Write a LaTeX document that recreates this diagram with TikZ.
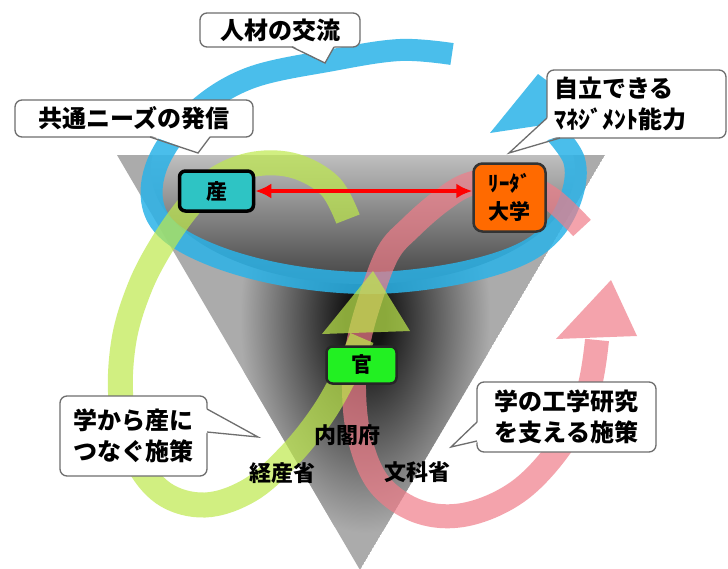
\documentclass[tikz,border=0pt]{standalone}
\usepackage{fontspec}
\setmainfont{Noto Sans CJK JP}
\usetikzlibrary{arrows.meta}
\definecolor{fgray}{HTML}{ABABAB}
\definecolor{fdark}{HTML}{141414}
\definecolor{mtop}{HTML}{C4C4C4}
\definecolor{mbot}{HTML}{404040}
\definecolor{ringblue}{RGB}{43,179,232}
\definecolor{arrgreen}{RGB}{190,233,76}
\definecolor{arrpink}{RGB}{240,125,137}
\definecolor{santeal}{RGB}{46,196,196}
\definecolor{univorange}{RGB}{255,106,0}
\definecolor{kangreen}{RGB}{34,240,34}
\definecolor{callborder}{HTML}{6E6E6E}
\pgfdeclareradialshading{funnel}{\pgfpoint{0bp}{0bp}}{color(0bp)=(fdark); color(4bp)=(fdark); color(25bp)=(fgray); color(50bp)=(fgray)}
\begin{document}
\begin{tikzpicture}[x=1pt,y=-1pt,
  callout/.style={draw=callborder, fill=white, line width=1.3pt, rounded corners=7pt, align=center, inner sep=0pt, font=\bfseries\fontsize{24}{31}\selectfont},
  tailline/.style={draw=callborder, line width=1.3pt, line join=miter},
  orgbox/.style={rounded corners=6pt, inner sep=0pt, align=center, font=\bfseries\fontsize{21}{28}\selectfont},
  agency/.style={font=\bfseries\fontsize{22}{26}\selectfont, inner sep=0pt},
]
\useasboundingbox (0,0) rectangle (728,568);
\fill[white] (0,0) rectangle (728,568);
% funnel
\coordinate (tl) at (117,155);
\coordinate (tr) at (605,155);
\coordinate (tb) at (360,570);
\begin{scope}
  \clip (tl) -- (tr) -- (tb) -- cycle;
  \fill[fgray] (tl) -- (tr) -- (tb) -- cycle;
  \shade[shading=funnel] (365,318) ellipse [x radius=125pt, y radius=215pt];
  \begin{scope}
    \clip (363,170) ellipse [x radius=212pt, y radius=114pt];
    \shade[top color=mtop, bottom color=mbot] (100,150) rectangle (620,285);
  \end{scope}
\end{scope}
% blue ring
\begin{scope}[opacity=0.85]
  \draw[ringblue, line width=22pt] plot[smooth, tension=0.6] coordinates {(452,54) (400,50) (333,60) (250,78) (195,112) (160,158) (152,200) (170,232) (220,258) (290,276) (370,283) (450,275) (515,257) (552,232) (572,195) (574,160) (552,129)};
  \fill[ringblue] (490,133) -- (538,74) -- (596,117) -- cycle;
\end{scope}
% pink arrow
\begin{scope}[opacity=0.7]
  \draw[arrpink, line width=24pt] plot[smooth, tension=0.6] coordinates {(582,228) (550,198) (510,179) (470,184) (441,201) (410,228) (388,253) (370,300) (358,345) (354,390) (360,440) (380,485) (420,512) (468,514) (520,490) (563,443) (588,392) (597,340)};
  \fill[arrpink] (556,339) -- (611,280) -- (637,336) -- cycle;
\end{scope}
% green arrow
\begin{scope}[opacity=0.7]
  \draw[arrgreen, line width=25pt] plot[smooth, tension=0.6] coordinates {(348,219) (330,186) (295,166) (255,164) (218,178) (190,205) (163,243) (140,287) (124,340) (121,400) (134,455) (163,493) (205,505) (250,490) (290,455) (322,415) (345,375) (362,338)};
  \fill[arrgreen] (322,334) -- (373,271) -- (410,331) -- cycle;
\end{scope}
% boxes
\node[orgbox, draw=black, line width=3.5pt, fill=santeal, minimum width=74pt, minimum height=40pt] (san) at (216.5,191) {産};
\node[orgbox, draw=black!80, line width=2.5pt, fill=univorange, minimum width=72pt, minimum height=68pt, rounded corners=9pt] (univ) at (509.5,197.5) {ﾘｰﾀﾞ\\大学};
\node[orgbox, draw=black!85, line width=2.5pt, fill=kangreen, minimum width=70pt, minimum height=37pt] (kan) at (361.5,365) {官};
\draw[red, line width=3.8pt, {Latex[length=16pt,width=15pt]}-{Latex[length=16pt,width=15pt]}] (san.east) -- (univ.west |- san.east);
% callouts
\node[callout, minimum width=160pt, minimum height=34pt] (c1) at (280,30) {人材の交流};
\coordinate (t1) at (325,63);
\fill[white] (291,45) -- (t1) -- (335,45) -- cycle;
\draw[tailline] (292,47) -- (t1) -- (334,47);

\node[callout, minimum width=238pt, minimum height=37pt] (c2) at (134,118.5) {共通ニーズの発信};
\coordinate (t2) at (198,153);
\fill[white] (149,135) -- (t2) -- (211,135) -- cycle;
\draw[tailline] (150,137) -- (t2) -- (210,137);

\node[callout, text width=165pt, align=left, inner xsep=7pt, minimum height=68pt] (c3) at (636.5,104) {自立できる\\ﾏﾈｼﾞﾒﾝﾄ能力};
\coordinate (t3) at (509,153);
\fill[white] (549.5,116) -- (t3) -- (561,135.5) -- cycle;
\draw[tailline] (547,118) -- (t3) -- (560,138);

\node[callout, minimum width=147pt, minimum height=80pt] (c4) at (133.5,436) {学から産に\\つなぐ施策};
\coordinate (t4) at (258,437);
\fill[white] (205,408) -- (t4) -- (205,433) -- cycle;
\draw[tailline] (207,409) -- (t4) -- (207,432);

\node[callout, minimum width=179pt, minimum height=70pt] (c5) at (566.5,417) {学の工学研究\\を支える施策};
\coordinate (t5) at (451,447);
\fill[white] (479,421) -- (t5) -- (479,442) -- cycle;
\draw[tailline] (477,422) -- (t5) -- (477,441);
% agencies
\node[agency] (naikaku) at (347,435) {内閣府};
\node[agency] (keisan) at (282,473) {経産省};
\node[agency] (monka) at (417,472) {文科省};
\end{tikzpicture}
\end{document}
